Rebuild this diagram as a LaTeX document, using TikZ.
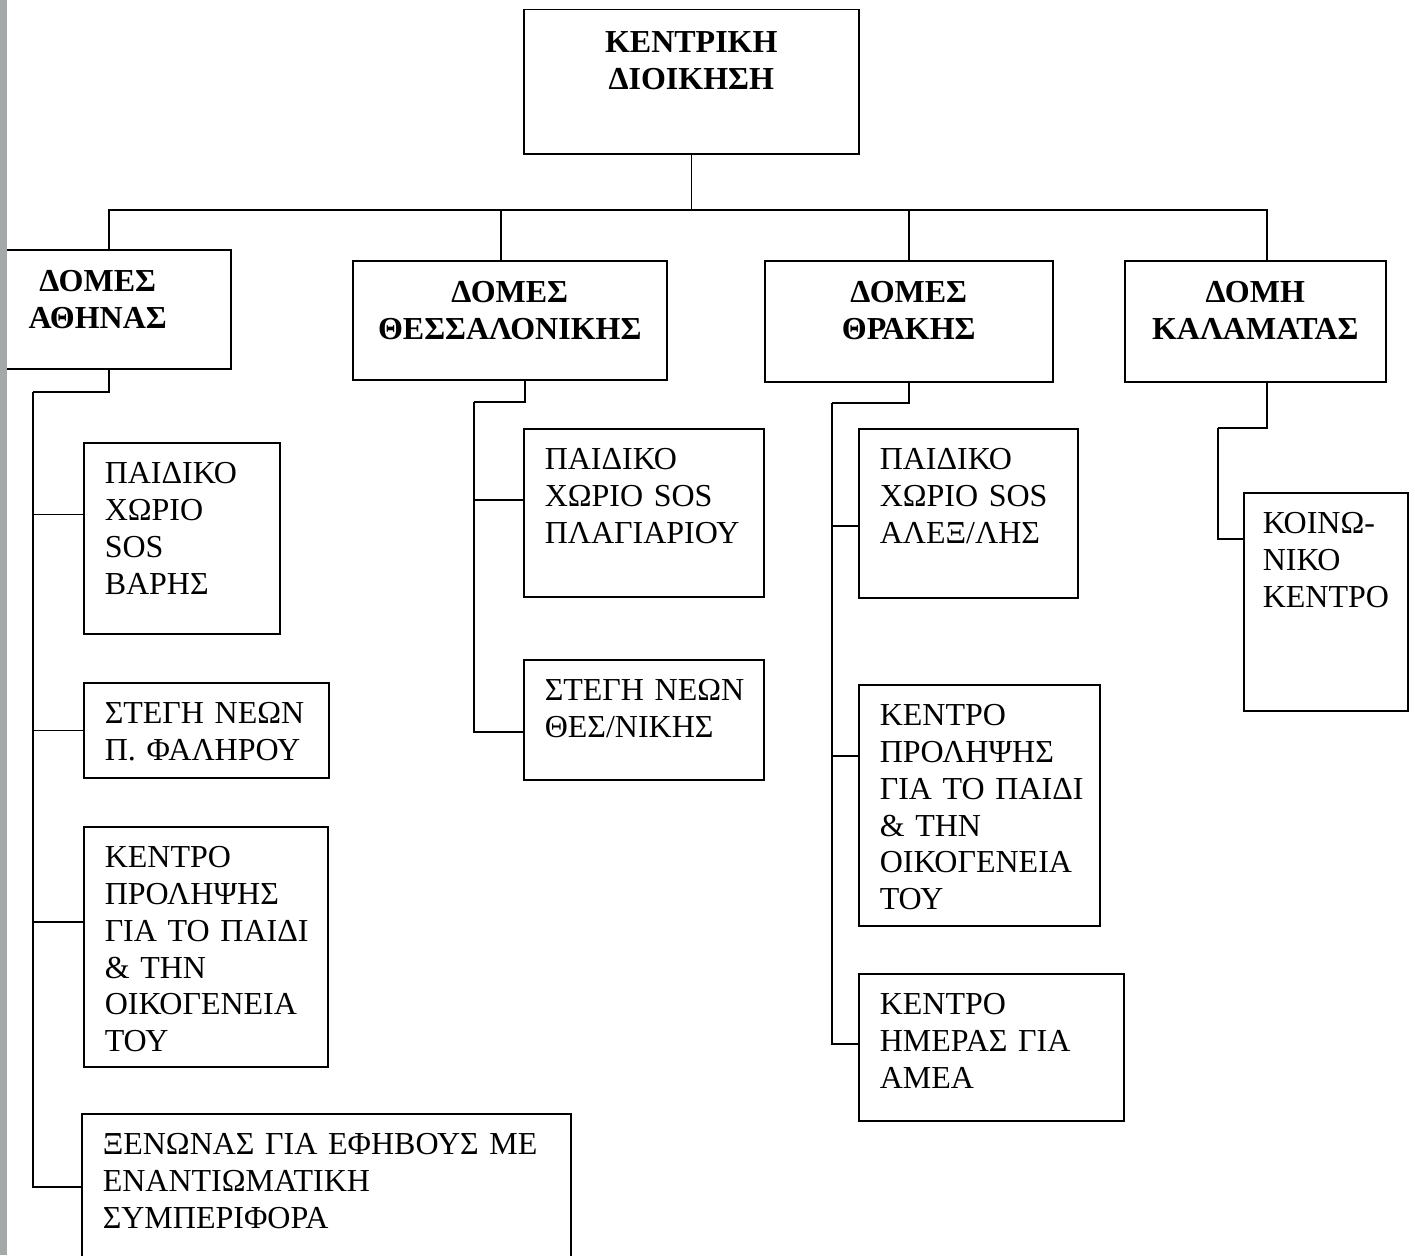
\documentclass[tikz,border=0pt]{standalone}
\usepackage{fontspec}
\setmainfont{Liberation Serif}
\definecolor{scanedge}{RGB}{165,168,168}
\begin{document}
\begin{tikzpicture}[x=1pt, y=-1pt, line width=1.5pt,
  unit/.style={draw, anchor=north west, inner xsep=21pt, inner ysep=0pt, text height=41pt, align=left, font=\fontsize{32}{36.8}\selectfont},
  head/.style={unit, inner xsep=10pt, text height=42pt, align=center, font=\fontsize{32}{36.8}\selectfont\bfseries}]
\useasboundingbox (0,0) rectangle (1415,1255);
\node[head, text width=315pt, text height=43pt, text depth=101pt] (kd) at (523,9){ΚΕΝΤΡΙΚΗ\\ΔΙΟΙΚΗΣΗ};
\node[head, text width=246pt, text depth=77pt] (ath) at (-36,249){ΔΟΜΕΣ\\ΑΘΗΝΑΣ};
\node[head, text width=294pt, text depth=77pt] (the) at (352,260){ΔΟΜΕΣ\\ΘΕΣΣΑΛΟΝΙΚΗΣ};
\node[head, text width=268pt, text depth=79pt] (thr) at (764,260){ΔΟΜΕΣ\\ΘΡΑΚΗΣ};
\node[head, text width=241pt, text depth=79pt] (kal) at (1124,260){ΔΟΜΗ\\ΚΑΛΑΜΑΤΑΣ};
\coordinate (bus) at (0,210);
\draw[](kd.south) -- (kd.south |- bus);
\draw[]([xshift=11pt]ath.north) |- (kd.south |- bus) -| ([xshift=11.5pt]kal.north);
\draw[]([xshift=-9pt]the.north) -- ([xshift=-9pt]the.north |- bus);
\draw[](thr.north) -- (thr.north |- bus);
\node[unit, text width=154pt, text depth=150pt] (ath1) at (83,442){ΠΑΙΔΙΚΟ\\ΧΩΡΙΟ\\SOS\\ΒΑΡΗΣ};
\node[unit, text width=203pt, text depth=54pt] (ath2) at (83,682){ΣΤΕΓΗ~ΝΕΩΝ\\Π.~ΦΑΛΗΡΟΥ};
\node[unit, text width=202pt, text depth=199pt] (ath3) at (83,826){ΚΕΝΤΡΟ\\ΠΡΟΛΗΨΗΣ\\ΓΙΑ~ΤΟ~ΠΑΙΔΙ\\\&~ΤΗΝ\\ΟΙΚΟΓΕΝΕΙΑ\\ΤΟΥ};
\node[unit, text width=447pt, text depth=180pt] (ath4) at (81,1113){ΞΕΝΩΝΑΣ~ΓΙΑ~ΕΦΗΒΟΥΣ~ΜΕ\\ΕΝΑΝΤΙΩΜΑΤΙΚΗ\\ΣΥΜΠΕΡΙΦΟΡΑ};
\coordinate (athv) at (33,392);
\draw[]([xshift=11pt]ath.south) |- (athv);
\draw[]([yshift=24pt]ath1.west) -| (athv);
\draw[](ath2.west) -| (athv);
\draw[]([yshift=25pt]ath3.west) -| (athv);
\draw[]([yshift=37.5pt]ath4.west) -| (athv);
\node[unit, text width=198pt, text depth=127pt] (the1) at (523,428){ΠΑΙΔΙΚΟ\\ΧΩΡΙΟ~SOS\\ΠΛΑΓΙΑΡΙΟΥ};
\node[unit, text width=198pt, text depth=79pt] (the2) at (523,659){ΣΤΕΓΗ~ΝΕΩΝ\\ΘΕΣ/ΝΙΚΗΣ};
\coordinate (thev) at (474,402);
\draw[]([xshift=15pt]the.south) |- (thev);
\draw[]([yshift=13pt]the1.west) -| (thev);
\draw[]([yshift=-12pt]the2.west) -| (thev);
\node[unit, text width=177pt, text depth=128pt] (thr1) at (858,428){ΠΑΙΔΙΚΟ\\ΧΩΡΙΟ~SOS\\ΑΛΕΞ/ΛΗΣ};
\node[unit, text width=199pt, text depth=200pt] (thr2) at (858,684){ΚΕΝΤΡΟ\\ΠΡΟΛΗΨΗΣ\\ΓΙΑ~ΤΟ~ΠΑΙΔΙ\\\&~ΤΗΝ\\ΟΙΚΟΓΕΝΕΙΑ\\ΤΟΥ};
\node[unit, text width=223pt, text depth=106pt] (thr3) at (858,973){ΚΕΝΤΡΟ\\ΗΜΕΡΑΣ~ΓΙΑ\\ΑΜΕΑ};
\coordinate (thrv) at (832,403);
\draw[](thr.south) |- (thrv);
\draw[]([yshift=-12.5pt]thr1.west) -| (thrv);
\draw[]([yshift=49.5pt]thr2.west) -| (thrv);
\draw[]([yshift=3.5pt]thr3.west) -| (thrv);
\node[unit, inner xsep=19pt, text width=126pt, text depth=177pt] (kal1) at (1243,492){ΚΟΙΝΩ-\\ΝΙΚΟ\\ΚΕΝΤΡΟ};
\coordinate (kalv) at (1218,428);
\draw[]([xshift=11.5pt]kal.south) |- (kalv);
\draw[]([yshift=63pt]kal1.west) -| (kalv);
\fill[scanedge] (0,0) rectangle (7,1255);
\end{tikzpicture}
\end{document}
